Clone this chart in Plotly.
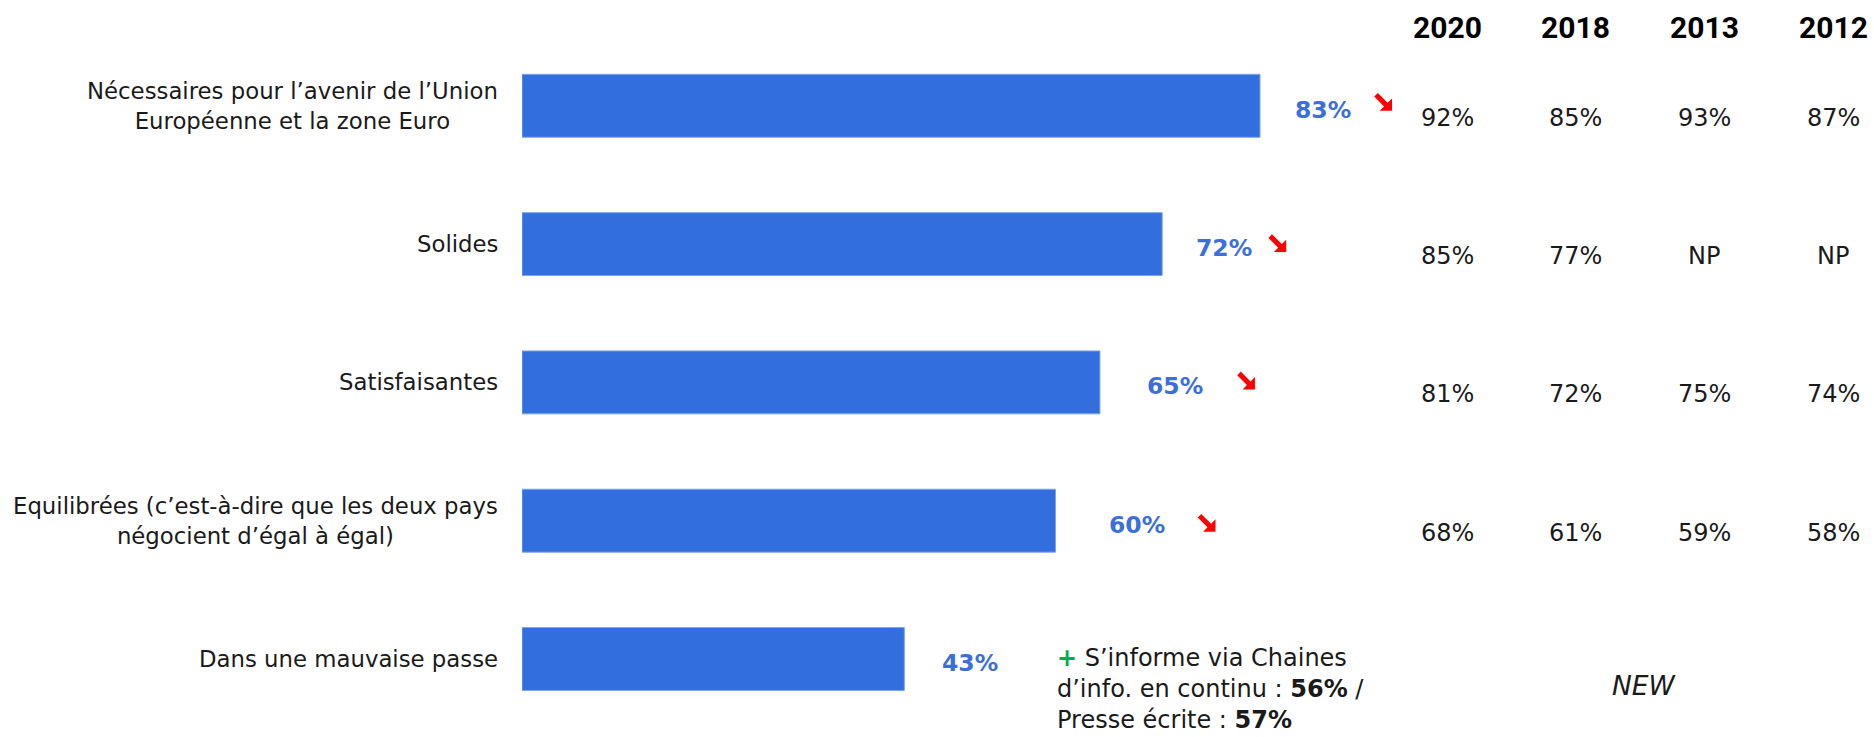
import plotly.graph_objects as go

# --- data -------------------------------------------------------------
categories = [
    "Nécessaires pour l’avenir de l’Union<br>Européenne et la zone Euro",
    "Solides",
    "Satisfaisantes",
    "Equilibrées (c’est-à-dire que les deux pays<br>négocient d’égal à égal)",
    "Dans une mauvaise passe",
]
values_2021 = [83, 72, 65, 60, 43]
trend_down = [True, True, True, True, False]

years = ["2020", "2018", "2013", "2012"]
hist_2020 = [92, 85, 81, 68]
hist_2018 = [85, 77, 72, 61]
hist_2013 = [93, None, 75, 59]
hist_2012 = [87, None, 74, 58]
new_label = "NEW"
callout = ("<span style='color:#00B050'><b>+</b></span> S’informe via Chaines<br>"
           "d’info. en continu : <b>56%</b> /<br>Presse écrite : <b>57%</b>")

# --- layout constants (pixels of the 1874x737 page) ---------------------
W, H = 1874, 737
x0_px = 522
px_per_pct = (1260 - 522) / 83
y_top_px = 105.8          # centre of first bar
row_px = 138.3            # distance between bars
BAR = "#336EDE"
LBL = "#3B6FDB"
FONT = "DejaVu Sans"

label_shift = [63, 62, 75, 82, 66]      # bar end -> value label centre
arrow_shift = [123, 115, 146, 151, 0]   # bar end -> arrow centre
arrow_dy = [-4, -1, -2, 2, 0]           # screen px, down positive

# heavy south-east arrow outline, screen px in an 18x18 box
ARROW = [(3.8, 0.2), (13.6, 10.0), (18, 5.6), (18, 18), (5.6, 18),
         (10.0, 13.6), (0.2, 3.8)]


def arrow_path(dx, dy):
    pts = [(sx - 9 + dx, -(sy - 9 + dy)) for sx, sy in ARROW]
    return "M" + "L".join(f"{x:.1f},{y:.1f}" for x, y in pts) + "Z"


y_hi = -y_top_px / row_px
y_lo = (H - y_top_px) / row_px

fig = go.Figure(
    go.Bar(
        x=values_2021,
        y=list(range(len(categories))),
        orientation="h",
        width=0.455,
        marker=dict(color=BAR, line=dict(color="#7fa3ea", width=1)),
        hoverinfo="skip",
    )
)

ann = []
for i, (cat, v) in enumerate(zip(categories, values_2021)):
    ann.append(dict(
        xref="paper", yref="y", x=500 / W, y=i, xanchor="right", yanchor="middle",
        text=cat, align="center", showarrow=False,
        font=dict(family=FONT, size=22.8, color="#1a1a1a"),
    ))
    ann.append(dict(
        xref="x", yref="y", x=v, y=i, xshift=label_shift[i], yshift=-4,
        text=f"<b>{v}%</b>", showarrow=False, xanchor="center", yanchor="middle",
        font=dict(family=FONT, size=23.5, color=LBL),
    ))
    if trend_down[i]:
        fig.add_shape(
            type="path", xref="x", yref="y",
            xsizemode="pixel", ysizemode="pixel", xanchor=v, yanchor=i,
            path=arrow_path(arrow_shift[i], arrow_dy[i]),
            fillcolor="#FF0000", line=dict(width=0),
        )

col_px = [1447, 1575, 1704, 1833]
for j, (yr, col) in enumerate(zip(years, [hist_2020, hist_2018, hist_2013, hist_2012])):
    ann.append(dict(
        xref="paper", yref="paper", x=col_px[j] / W, y=1 - 27.5 / H,
        xanchor="center", yanchor="middle", text=f"<b>{yr}</b>", showarrow=False,
        font=dict(family="Roboto", size=30, color="#000000"),
    ))
    for i, val in enumerate(col):
        ann.append(dict(
            xref="paper", yref="y", x=col_px[j] / W, y=i, yshift=-12,
            xanchor="center", yanchor="middle",
            text="NP" if val is None else f"{val}%", showarrow=False,
            font=dict(family=FONT, size=24, color="#1a1a1a"),
        ))

ann.append(dict(
    xref="paper", yref="y", x=1644 / W, y=4, yshift=-26,
    xanchor="center", yanchor="middle", text=f"<i>{new_label}</i>", showarrow=False,
    font=dict(family=FONT, size=26.5, color="#1a1a1a"),
))
ann.append(dict(
    xref="paper", yref="paper", x=1055 / W, y=1 - 642 / H,
    xanchor="left", yanchor="top", text=callout, align="left", showarrow=False,
    font=dict(family=FONT, size=24, color="#1a1a1a"),
))

fig.update_layout(
    width=W, height=H,
    margin=dict(l=0, r=0, t=0, b=0),
    paper_bgcolor="white",
    plot_bgcolor="white",
    showlegend=False,
    annotations=ann,
    xaxis=dict(domain=[x0_px / W, 1], range=[0, (W - x0_px) / px_per_pct],
               visible=False, fixedrange=True),
    yaxis=dict(range=[y_lo, y_hi], visible=False, fixedrange=True),
)

fig.write_html(
    "out.html",
    config={"displayModeBar": False},
    post_script="document.body.style.margin='0';document.body.style.overflow='hidden';",
)
